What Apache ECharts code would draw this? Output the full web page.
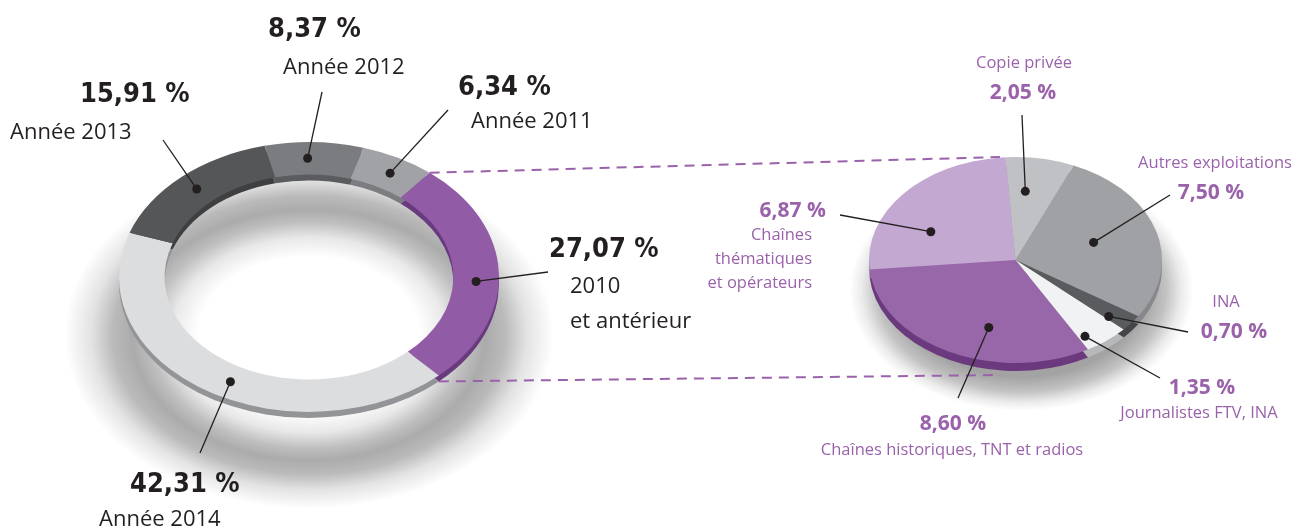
<!DOCTYPE html>
<html>
<head>
<meta charset="utf-8">
<script src="https://cdn.jsdelivr.net/npm/echarts@6/dist/echarts.min.js"></script>
<style>
html, body { margin: 0; padding: 0; background: #fff; }
#main { width: 1293px; height: 530px; }
</style>
</head>
<body>
<div id="main"></div>
<script>
// anneau de gauche : répartition par année
var anneeNoms = ['Année 2011', '2010\net antérieur', 'Année 2014', 'Année 2013', 'Année 2012'];
var anneeValeurs = [6.34, 27.07, 42.31, 15.91, 8.37];
// camembert de droite : détail de "2010 et antérieur"
var detailNoms = ['Copie privée', 'Autres exploitations', 'INA', 'Journalistes FTV, INA',
    'Chaînes historiques, TNT et radios', 'Chaînes\nthématiques\net opérateurs'];
var detailValeurs = [2.05, 7.50, 0.70, 1.35, 8.60, 6.87];

// couleurs (dessus / tranche)
var gaucheHaut = ['#a1a2a5', '#915ba6', '#dcdddf', '#555658', '#7b7c7f'];
var gaucheCote = ['#7c7d80', '#6a3a7f', '#939497', '#3e3f41', '#5b5c5f'];
var droiteHaut = ['#c0c1c4', '#a0a1a4', '#5a5b5e', '#f1f2f4', '#9867a9', '#c3a8d1'];
var droiteCote = ['#a0a1a4', '#87888b', '#444547', '#b7b8bb', '#6b3a7e', '#8d6a9e'];

// géométrie des deux ellipses
var L = { cx: 309, cy: 277, rx: 190, ky: 0.71, trou: 0.76, ep: 6, depart: 16.6 };
var R = { cx: 1015.5, cy: 260, rx: 146.5, ky: 0.703, trou: 0, ep: 8, depart: -3.9 };

// placement des étiquettes (v = valeur, n = nom, l = fin du trait, r/da = point sur la tranche)
var posGauche = [
    { vx: 458, vy: 88, nx: 471, ny: 122, lx: 448, ly: 110, r: 0.88, da: 1, al: 'left' },
    { vx: 549, vy: 250, nx: 570, ny: 304, lx: 548, ly: 272, r: 0.88, da: 4, al: 'left' },
    { vx: 130, vy: 485, nx: 99, ny: 520, lx: 200, ly: 453, r: 0.88, da: -5, al: 'left' },
    { vx: 80, vy: 95, nx: 10, ny: 133, lx: 163, ly: 140, r: 0.88, da: 0, al: 'left' },
    { vx: 268, vy: 30, nx: 283, ny: 68, lx: 322, ly: 92, r: 0.88, da: -2, al: 'left' }
];
var posDroite = [
    { vx: 1023, vy: 93, nx: 1024, ny: 63, lx: 1022, ly: 115, r: 0.67, da: -4, al: 'center' },
    { vx: 1211, vy: 193, nx: 1215, ny: 163, lx: 1170, ly: 195, r: 0.56, da: -1, al: 'center' },
    { vx: 1234, vy: 332, nx: 1226, ny: 302, lx: 1188, ly: 332, r: 0.84, da: 3, al: 'center' },
    { vx: 1202, vy: 388, nx: 1199, ny: 413, lx: 1160, ly: 378, r: 0.88, da: 6, al: 'center' },
    { vx: 953, vy: 424, nx: 952, ny: 450, lx: 958, ly: 398, r: 0.68, da: -12, al: 'center' },
    { vx: 826, vy: 211, nx: 812, ny: 259, lx: 840, ly: 215, r: 0.64, da: -15, al: 'right' }
];

function bornes(valeurs, depart) {
    var total = valeurs.reduce(function (s, v) { return s + v; }, 0);
    var a = depart, res = [];
    valeurs.forEach(function (v) {
        var b = a + v / total * 360;
        res.push([a, b]);
        a = b;
    });
    return res;
}
var bornesG = bornes(anneeValeurs, L.depart);
var bornesD = bornes(detailValeurs, R.depart);

function rad(deg) { return (deg - 90) * Math.PI / 180; }
function point(g, deg, frac) {
    var t = deg * Math.PI / 180;
    return [g.cx + g.rx * frac * Math.sin(t), g.cy - g.rx * g.ky * frac * Math.cos(t)];
}
function fmt(v) { return v.toFixed(2).replace('.', ',') + ' %'; }

function serieTranches(g, valeurs, b, couleurs, dy, z) {
    return {
        type: 'custom', coordinateSystem: 'none', z: z, silent: true,
        data: valeurs,
        renderItem: function (params) {
            var i = params.dataIndex;
            return {
                type: 'group', x: g.cx, y: g.cy + dy, scaleY: g.ky,
                children: [{
                    type: 'sector',
                    shape: { cx: 0, cy: 0, r: g.rx, r0: g.rx * g.trou,
                        startAngle: rad(b[i][0]), endAngle: rad(b[i][1]), clockwise: true },
                    style: { fill: couleurs[i] }
                }]
            };
        }
    };
}

function serieEtiquettes(g, valeurs, noms, b, pos, st) {
    return {
        type: 'custom', coordinateSystem: 'none', z: 10, silent: true,
        data: valeurs,
        renderItem: function (params) {
            var i = params.dataIndex, p = pos[i];
            var m = point(g, (b[i][0] + b[i][1]) / 2 + p.da, p.r);
            return {
                type: 'group',
                children: [
                    { type: 'line', shape: { x1: m[0], y1: m[1], x2: p.lx, y2: p.ly },
                      style: { stroke: '#231f20', lineWidth: 1.3 } },
                    { type: 'circle', shape: { cx: m[0], cy: m[1], r: 4.5 }, style: { fill: '#231f20' } },
                    { type: 'text', x: p.vx, y: p.vy,
                      style: { text: fmt(valeurs[i]), fill: st.couleurVal, fontFamily: st.policeVal,
                        fontWeight: 'bold', fontSize: st.tailleVal, align: p.al,
                        verticalAlign: 'middle' } },
                    { type: 'text', x: p.nx, y: p.ny,
                      style: { text: noms[i], fill: st.couleurNom, fontFamily: st.policeNom,
                        fontSize: st.tailleNom, lineHeight: st.interligne, align: p.al,
                        verticalAlign: 'middle' } }
                ]
            };
        }
    };
}

// ombre douce : disque elliptique à dégradé radial
function ombre(cx, cy, r, ky, stops) {
    return {
        type: 'group', x: cx, y: cy, scaleY: ky, z: 0, silent: true,
        children: [{
            type: 'circle', shape: { cx: 0, cy: 0, r: r },
            style: { fill: { type: 'radial', x: 0.5, y: 0.5, r: 0.5,
                colorStops: stops.map(function (s) { return { offset: s[0], color: 'rgba(0,0,0,' + s[1] + ')' }; }) } }
        }]
    };
}

var violet = '#9a62aa';
var pG1 = point(L, bornesG[1][0], 1);
var pG2 = point(L, bornesG[1][1], 1);

var chart = echarts.init(document.getElementById('main'));
chart.setOption({
    animation: false,
    backgroundColor: '#fff',
    graphic: [
        ombre(L.cx, L.cy + 58, 245, L.ky, [[0, 0], [0.45, 0], [0.56, 0.09], [0.65, 0.25], [0.72, 0.33],
            [0.8, 0.27], [0.89, 0.11], [1, 0]]),
        ombre(R.cx + 6, R.cy + 30, 172, R.ky, [[0, 0.36], [0.72, 0.36], [0.84, 0.24], [0.93, 0.08], [1, 0]]),
        // traits de liaison
        { type: 'line', z: 1, silent: true, shape: { x1: pG1[0], y1: pG1[1], x2: 1000, y2: 157 },
          style: { stroke: violet, lineWidth: 2, lineDash: [10, 7] } },
        { type: 'line', z: 1, silent: true, shape: { x1: pG2[0], y1: pG2[1] + L.ep, x2: 1000, y2: 375 },
          style: { stroke: violet, lineWidth: 2, lineDash: [10, 7] } }
    ],
    series: [
        serieTranches(L, anneeValeurs, bornesG, gaucheCote, L.ep, 2),
        serieTranches(L, anneeValeurs, bornesG, gaucheHaut, 0, 3),
        serieTranches(R, detailValeurs, bornesD, droiteCote, R.ep, 2),
        serieTranches(R, detailValeurs, bornesD, droiteHaut, 0, 3),
        serieEtiquettes(L, anneeValeurs, anneeNoms, bornesG, posGauche, {
            couleurVal: '#231f20', policeVal: "'DejaVu Sans Condensed', 'Liberation Sans Narrow', 'Open Sans'", tailleVal: 27,
            couleurNom: '#231f20', policeNom: "'Open Sans'", tailleNom: 22, interligne: 35
        }),
        serieEtiquettes(R, detailValeurs, detailNoms, bornesD, posDroite, {
            couleurVal: violet, policeVal: "'Open Sans'", tailleVal: 21,
            couleurNom: violet, policeNom: "'Open Sans'", tailleNom: 16.5, interligne: 24
        })
    ]
});
</script>
</body>
</html>
